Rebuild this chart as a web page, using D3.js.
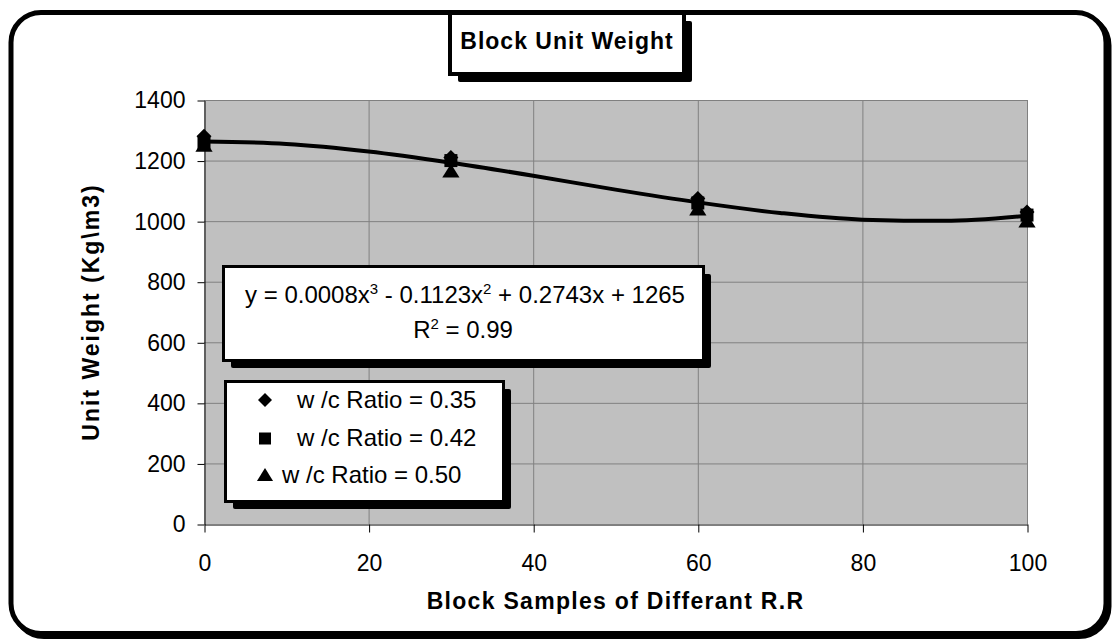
<!DOCTYPE html>
<html>
<head>
<meta charset="utf-8">
<script src="https://cdn.jsdelivr.net/npm/d3@7"></script>
<style>
  html, body { margin: 0; padding: 0; background: #fff; }
  svg { display: block; font-family: "Liberation Sans", Arial, sans-serif; }
</style>
</head>
<body>
<svg id="chart" width="1114" height="640"></svg>
<script>
// Block samples (replacement ratio, %) and measured unit weights (kg/m3)
const samples = [0, 30, 60, 100];
const wc035 = [1280, 1210, 1075, 1030];
const wc042 = [1260, 1200, 1060, 1020];
const wc050 = [1250, 1165, 1040, 1000];
const seriesNames = ["w /c Ratio = 0.35", "w /c Ratio = 0.42", "w /c Ratio = 0.50"];

// Polynomial (3rd order) trendline, sampled every 10 %
const trendX = [0, 10, 20, 30, 40, 50, 60, 70, 80, 90, 100];
const trendY = [1263, 1255, 1230, 1193, 1150, 1104, 1062, 1027, 1005, 1001, 1018];

const xTicks = [0, 20, 40, 60, 80, 100];
const yTicks = [0, 200, 400, 600, 800, 1000, 1200, 1400];

const titleText = "Block Unit Weight";
const xTitle = "Block Samples of Differant R.R";
const yTitle = "Unit Weight (Kg\\m3)";

const svg = d3.select("#chart");

// Shadowed box helper: black shadow, black border, white face
function shadowBox(g, x0, y0, x1, y1, off, bw) {
  g.append("rect").attr("x", x0 + off).attr("y", y0 + off)
    .attr("width", x1 - x0 + bw).attr("height", y1 - y0 + bw).attr("rx", 2).attr("fill", "#000");
  g.append("rect").attr("x", x0 - bw).attr("y", y0 - bw)
    .attr("width", x1 - x0 + 2 * bw).attr("height", y1 - y0 + 2 * bw).attr("fill", "#000");
  g.append("rect").attr("x", x0).attr("y", y0)
    .attr("width", x1 - x0).attr("height", y1 - y0).attr("fill", "#fff");
}

// Outer rounded frame with shadow
svg.append("rect").attr("x", 14).attr("y", 15.5).attr("width", 1095).attr("height", 621)
  .attr("rx", 30).attr("fill", "none").attr("stroke", "#000").attr("stroke-width", 5);
svg.append("rect").attr("x", 11).attr("y", 12.5).attr("width", 1095).attr("height", 621)
  .attr("rx", 30).attr("fill", "#fff").attr("stroke", "#000").attr("stroke-width", 5);

// Plot area
const plot = { left: 204, right: 1027, top: 100, bottom: 524 };
const x = d3.scaleLinear().domain([0, 100]).range([plot.left, plot.right]);
const y = d3.scaleLinear().domain([0, 1400]).range([plot.bottom, plot.top]);

svg.append("rect").attr("x", plot.left).attr("y", plot.top)
  .attr("width", plot.right - plot.left).attr("height", plot.bottom - plot.top)
  .attr("fill", "#c0c0c0");

// Gridlines
svg.append("g").selectAll("line").data(yTicks.filter(d => d > 0)).join("line")
  .attr("x1", plot.left).attr("x2", plot.right)
  .attr("y1", d => y(d) + 0.5).attr("y2", d => y(d) + 0.5)
  .attr("stroke", "#808080").attr("stroke-width", 1);
svg.append("g").selectAll("line").data(xTicks.filter(d => d > 0)).join("line")
  .attr("x1", d => x(d) + 0.5).attr("x2", d => x(d) + 0.5)
  .attr("y1", plot.top).attr("y2", plot.bottom)
  .attr("stroke", "#808080").attr("stroke-width", 1);

// Axes
const fontTick = "23px";
const xAxis = svg.append("g").attr("transform", `translate(0.5,${plot.bottom + 0.5})`)
  .call(d3.axisBottom(x).tickValues(xTicks).tickFormat(d3.format("d"))
    .tickSize(8).tickSizeOuter(0).tickPadding(22));
const yAxis = svg.append("g").attr("transform", `translate(${plot.left + 0.5},0.5)`)
  .call(d3.axisLeft(y).tickValues(yTicks).tickFormat(d3.format("d"))
    .tickSize(7).tickSizeOuter(0).tickPadding(12));
[xAxis, yAxis].forEach(a => {
  a.select(".domain").attr("stroke", "#000");
  a.selectAll(".tick line").attr("stroke", "#000");
  a.selectAll(".tick text").attr("fill", "#000").style("font-size", fontTick)
    .style("font-family", "'Liberation Sans', Arial, sans-serif");
});
xAxis.selectAll(".tick text").attr("dy", "0.71em").attr("y", 30);

// Trendline
const line = d3.line().x((d, i) => x(trendX[i])).y(d => y(d)).curve(d3.curveMonotoneX);
svg.append("path").datum(trendY).attr("d", line)
  .attr("fill", "none").attr("stroke", "#000").attr("stroke-width", 4)
  .attr("stroke-linejoin", "round");

// Marker shapes
const markerPath = {
  diamond: s => `M0,${-s}L${s},0L0,${s}L${-s},0Z`,
  square: s => `M${-s},${-s}H${s}V${s}H${-s}Z`,
  triangle: s => `M0,${-s}L${s * 1.15},${s * 0.85}H${-s * 1.15}Z`
};
const shapes = ["diamond", "square", "triangle"];
const sizes = [7.5, 6.5, 7.5];
[wc035, wc042, wc050].forEach((vals, k) => {
  svg.append("g").selectAll("path").data(vals).join("path")
    .attr("transform", (d, i) => `translate(${x(samples[i])},${y(d)})`)
    .attr("d", markerPath[shapes[k]](sizes[k]))
    .attr("fill", "#000");
});

// Chart title box
const tg = svg.append("g");
shadowBox(tg, 452, 15, 682, 72, 6, 4);
tg.append("text").attr("x", 567).attr("y", 49).attr("text-anchor", "middle")
  .style("font-size", "23px").style("font-weight", "bold").style("letter-spacing", "1px")
  .text(titleText);

// Axis titles
svg.append("text").attr("x", (plot.left + plot.right) / 2).attr("y", 609)
  .attr("text-anchor", "middle").style("font-size", "23px").style("font-weight", "bold")
  .style("letter-spacing", "1.3px").text(xTitle);
svg.append("text").attr("transform", `translate(99,${(plot.top + plot.bottom) / 2}) rotate(-90)`)
  .attr("text-anchor", "middle").style("font-size", "23px").style("font-weight", "bold")
  .style("letter-spacing", "2px").text(yTitle);

// Trendline equation box
const eg = svg.append("g");
shadowBox(eg, 225, 268, 702, 359, 6, 3);
const eq = eg.append("text").attr("x", 465).attr("y", 303).attr("text-anchor", "middle")
  .style("font-size", "24px");
eq.append("tspan").text("y = 0.0008x");
eq.append("tspan").attr("dy", -9).style("font-size", "15px").text("3");
eq.append("tspan").attr("dy", 9).text(" - 0.1123x");
eq.append("tspan").attr("dy", -9).style("font-size", "15px").text("2");
eq.append("tspan").attr("dy", 9).text(" + 0.2743x + 1265");
const r2 = eg.append("text").attr("x", 463).attr("y", 338).attr("text-anchor", "middle")
  .style("font-size", "24px");
r2.append("tspan").text("R");
r2.append("tspan").attr("dy", -9).style("font-size", "15px").text("2");
r2.append("tspan").attr("dy", 9).text(" = 0.99");

// Legend
const lg = svg.append("g");
shadowBox(lg, 227, 383, 502, 500, 6, 3);
const legendRows = [
  { sym: 265, text: 297, cy: 400, base: 408 },
  { sym: 265, text: 297, cy: 438.5, base: 446 },
  { sym: 265, text: 282, cy: 475, base: 483 }
];
seriesNames.forEach((name, k) => {
  const r = legendRows[k];
  lg.append("path").attr("transform", `translate(${r.sym},${r.cy})`)
    .attr("d", markerPath[shapes[k]](k === 1 ? 6 : 7)).attr("fill", "#000");
  lg.append("text").attr("x", r.text).attr("y", r.base).style("font-size", "24px").text(name);
});
</script>
</body>
</html>
